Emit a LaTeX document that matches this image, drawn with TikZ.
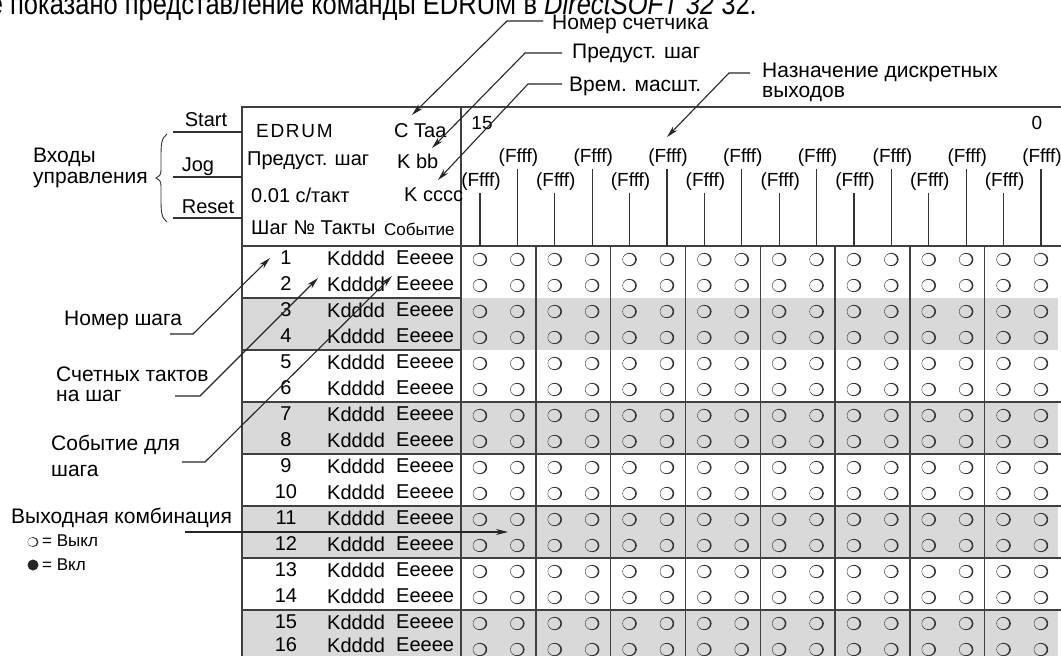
\documentclass[tikz,border=0pt]{standalone}
\usepackage{fontspec}
\setmainfont{Liberation Sans}
\usetikzlibrary{arrows.meta}
\newcommand\fsz[1]{\fontsize{#1}{#1}\selectfont}
\begin{document}
\begin{tikzpicture}[x=1pt,y=-1pt,
  lbl/.style={inner sep=0pt, font=\fsz{21}},
  tbl/.style={inner sep=0pt, font=\fsz{20}},
  hdr/.style={inner sep=0pt, font=\fsz{19}},
  lead/.style={draw=black!85, line width=1.1pt, -{Stealth[length=12pt,width=6pt]}},
  gridline/.style={draw=black!75, line width=1.4pt},
  thinline/.style={draw=black!80, line width=1.1pt},
  offc/.style={fill=black!80, even odd rule},
  shadebg/.style={fill=black!15}]
\clip (0,0) rectangle (1061,656);
\useasboundingbox (0,0) rectangle (1061,656);

% top clipped text line
\node[anchor=base east, inner sep=0pt] (topline) at (757,14)
  {\scalebox{0.85}[1]{\fsz{30}же показано представление команды EDRUM в \textit{DirectSOFT 32} 32.}};

% shaded rows
\foreach \k in {0,...,3}
  \fill[shadebg] (242,{298+104*\k}) rectangle (1058,{350+104*\k});

% table frame and lines
\draw[gridline] (1061,107) -- (242,107) -- (242,660);
\draw[gridline] (461,107) -- (461,660);
\draw[gridline] (242,246) -- (1061,246);
\foreach \k in {1,2}
  \draw[gridline] (242,{246+52*\k}) -- (461,{246+52*\k});
\foreach \k in {3,...,7}
  \draw[gridline] (242,{246+52*\k}) -- (1061,{246+52*\k});
\foreach \k in {1,...,7}
  \draw[gridline] ({461+74.8*\k},246) -- ({461+74.8*\k},660);

% header of output area
\node[hdr] (h15) at (482,123) {15};
\node[hdr] (h0) at (1037,123) {0};
\foreach \j in {0,...,15}{
  \pgfmathtruncatemacro{\odd}{mod(\j,2)}
  \ifnum\odd=0
    \node[hdr] (f\j) at ({481+37.4*\j},182) {(Ffff)};
    \draw[thinline] ({480+37.4*\j},193) -- ({480+37.4*\j},246);
  \else
    \node[hdr] (f\j) at ({481+37.4*\j},158) {(Ffff)};
    \draw[thinline] ({480+37.4*\j},169) -- ({480+37.4*\j},246);
  \fi
}

% output circles (all off)
\foreach \r in {0,...,15}
  \foreach \j in {0,...,15}
    \fill[offc] ({480+37.4*\j},{259.5+26*\r}) ellipse [x radius=7.2pt, y radius=6.6pt]
                ({479.4+37.4*\j},{259.5+26*\r}) ellipse [x radius=6.2pt, y radius=5.8pt];

% left header texts
\node[inner sep=0pt, anchor=west, font=\fsz{19}\addfontfeature{LetterSpace=9}] (edrum) at (256,131) {EDRUM};
\node[tbl, anchor=west] (ctaa) at (394,131) {C Taa};
\node[tbl, anchor=west] (pred) at (247,161) {Предуст. шаг};
\node[tbl, anchor=west] (kbb) at (397,161) {K bb};
\node[tbl, anchor=west] (tick) at (251,195) {0.01 с/такт};
\node[tbl, anchor=west] (kcccc) at (404,195) {K cccc};
\node[tbl, anchor=west] (colh) at (251,228) {Шаг № Такты};
\node[inner sep=0pt, anchor=west, font=\fsz{17}] (colev) at (384,229) {Событие};

% rows
\foreach \r in {1,...,15}{
  \node[tbl] (num\r) at (286,{258+26*(\r-1)}) {\r};
  \node[tbl, anchor=west] (k\r) at (327,{258+26*(\r-1)}) {Kdddd};
  \node[tbl, anchor=west] (e\r) at (396,{258+26*(\r-1)}) {Eeeee};
}
\node[tbl] (num16) at (286,645) {16};
\node[tbl, anchor=west] (k16) at (327,645) {Kdddd};
\node[tbl, anchor=west] (e16) at (396,645) {Eeeee};

% control inputs
\node[lbl, font=\fsz{20}] (start) at (206,120) {Start};
\node[lbl, font=\fsz{20}] (jog) at (198,167) {Jog};
\node[lbl, font=\fsz{20}] (reset) at (208,207) {Reset};
\coordinate (s0) at (173,132); \coordinate (s1) at (242,132);
\coordinate (j0) at (173,177); \coordinate (j1) at (242,177);
\coordinate (r0) at (173,218); \coordinate (r1) at (242,218);
\draw[thinline] (s0) -- (s1);
\draw[thinline] (j0) -- (j1);
\draw[thinline] (r0) -- (r1);
\draw[thinline, line width=0.9pt] (167,134) .. controls (161,138) and (161,146) .. (161,158)
  -- (161,170) .. controls (161,175) and (159,177) .. (156,178)
  .. controls (159,179) and (161,181) .. (161,186)
  -- (161,198) .. controls (161,210) and (161,218) .. (167,222);
\node[lbl, anchor=west] (vhod1) at (33,157) {Входы};
\node[lbl, anchor=west] (vhod2) at (33,180) {управления};

% left side labels with leaders
\node[lbl, anchor=west] (nomsh) at (64,320) {Номер шага};
\coordinate (a1) at (170,334); \coordinate (a2) at (193,334); \coordinate (t1) at (270,258);
\draw[lead] (a1) -- (a2) -- (t1);

\node[lbl, anchor=west] (sch1) at (56,374) {Счетных тактов};
\node[lbl, anchor=west] (sch2) at (56,396) {на шаг};
\coordinate (b1) at (175,396); \coordinate (b2) at (200,396); \coordinate (t2) at (318,278);
\draw[lead] (b1) -- (b2) -- (t2);

\node[lbl, anchor=west] (sob1) at (51,445) {Событие для};
\node[lbl, anchor=west] (sob2) at (51,471) {шага};
\coordinate (c1) at (182,462); \coordinate (c2) at (205,462); \coordinate (t3) at (392,276);
\draw[lead] (c1) -- (c2) -- (t3);

\node[lbl, anchor=west] (vyh) at (11,518) {Выходная комбинация};
\coordinate (d1) at (185,532); \coordinate (t4) at (508,532);
\draw[lead] (d1) -- (t4);

% legend
\fill[offc] (33,542) ellipse [x radius=5.5pt, y radius=5pt]
            (32.4,542) ellipse [x radius=4.6pt, y radius=4.3pt];
\node[inner sep=0pt, anchor=west, font=\fsz{17}] (leg1) at (42,541) {= Выкл};
\fill[black!85] (33,565) circle (5.5pt);
\node[inner sep=0pt, anchor=west, font=\fsz{17}] (leg2) at (42,565) {= Вкл};

% top labels with leaders
\node[lbl, anchor=west] (lcnt) at (552,24) {Номер счетчика};
\coordinate (e1) at (543,21); \coordinate (e2) at (507,21); \coordinate (t5) at (412,115);
\draw[lead] (e1) -- (e2) -- (t5);

\node[lbl, anchor=west] (lpre) at (572,53) {Предуст. шаг};
\coordinate (g1) at (562,53); \coordinate (g2) at (525,53); \coordinate (t6) at (432,148);
\draw[lead] (g1) -- (g2) -- (t6);

\node[lbl, anchor=west] (lvrem) at (569,86) {Врем. масшт.};
\coordinate (h1) at (562,84); \coordinate (h2) at (528,84); \coordinate (t7) at (438,180);
\draw[lead] (h1) -- (h2) -- (t7);

\node[lbl, anchor=west] (ln1) at (762,72) {Назначение дискретных};
\node[lbl, anchor=west] (ln2) at (762,94) {выходов};
\coordinate (m1) at (750,73); \coordinate (m2) at (729,73); \coordinate (t8) at (667,137);
\draw[lead] (m1) -- (m2) -- (t8);
\end{tikzpicture}
\end{document}
